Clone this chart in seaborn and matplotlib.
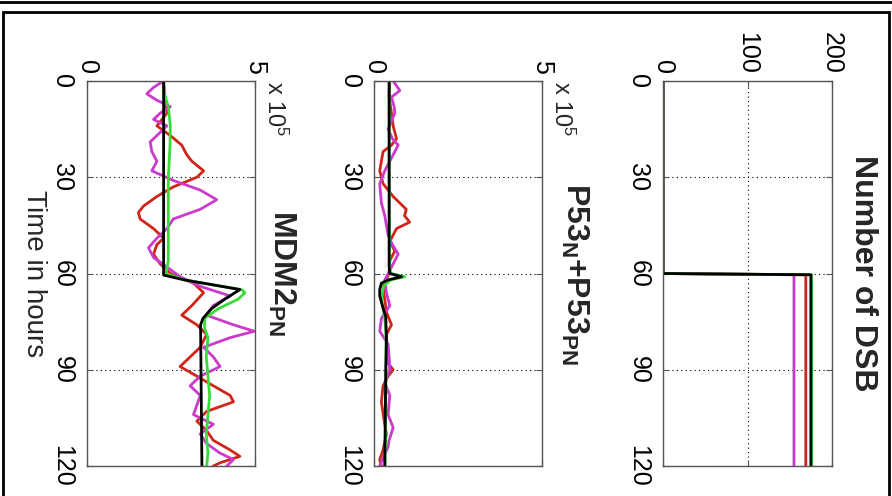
import pandas as pd
import seaborn as sns
import matplotlib.pyplot as plt
from matplotlib.patches import Rectangle
from matplotlib.lines import Line2D

run_order = ['red', 'magenta', 'green', 'black']
run_colors = {'red': '#d0251a', 'magenta': '#cc3acc', 'green': '#3ada3a', 'black': '#000000'}

time_ticks = [0, 30, 60, 90, 120]

# Number of DSB (step at t=60)
dsb_t = [0, 60, 60.4, 120]
dsb_red = [0, 0, 169, 169]
dsb_magenta = [0, 0, 155, 155]
dsb_green = [0, 0, 176, 176]
dsb_black = [0, 0, 175, 175]

# P53_N + P53_PN, in units of 1e5
p53_red_t = [0, 5, 10, 14, 18, 20, 22, 25, 28, 32, 36, 40, 42, 44, 46, 50, 53, 56, 60, 64, 68, 72,
             76, 79, 84, 88, 90, 92, 95, 100, 105, 110, 115, 118, 120]
p53_red = [0.47, 0.45, 0.52, 0.57, 0.67, 0.52, 0.27, 0.22, 0.17, 0.27, 0.57, 0.96, 0.91, 1.06, 0.67,
           0.47, 0.62, 0.47, 0.45, 0.27, 0.32, 0.37, 0.52, 0.37, 0.39, 0.42, 0.57, 0.42, 0.27, 0.22,
           0.29, 0.37, 0.27, 0.17, 0.22]
p53_magenta_t = [0, 3, 5, 8, 10, 13, 15, 18, 20, 24, 28, 32, 38, 42, 48, 51, 54, 58, 62, 66, 70, 74,
                 78, 82, 86, 90, 94, 98, 104, 108, 112, 114, 118, 120]
p53_magenta = [0.57, 0.77, 0.52, 0.6, 0.62, 0.5, 0.42, 0.55, 0.72, 0.52, 0.32, 0.17, 0.22, 0.32, 0.42,
               0.55, 0.72, 0.52, 0.32, 0.37, 0.47, 0.22, 0.17, 0.42, 0.45, 0.47, 0.32, 0.47, 0.42,
               0.57, 0.45, 0.42, 0.25, 0.17]
p53_green_t = [0, 58, 60, 61, 62, 64, 68, 74, 80, 90, 100, 110, 120]
p53_green = [0.45, 0.46, 0.5, 0.92, 0.5, 0.28, 0.22, 0.32, 0.36, 0.36, 0.35, 0.34, 0.33]
p53_black_t = [0, 58, 60, 61, 62, 63, 65, 67, 70, 73.5, 80, 90, 100, 110, 120]
p53_black = [0.45, 0.45, 0.47, 0.82, 0.42, 0.22, 0.17, 0.17, 0.25, 0.35, 0.37, 0.35, 0.34, 0.33, 0.32]

# MDM2_PN, in units of 1e5
mdm2_red_t = [0, 6, 10, 14, 17, 20, 23, 25, 28, 30, 33, 36, 39, 41, 43, 46, 49, 51, 54, 57, 60, 63,
              66, 70, 73, 76, 79, 83, 87, 89, 92, 95, 98, 100, 103, 106, 109, 112, 115, 117, 119, 120]
mdm2_red = [2.28, 2.33, 2.38, 2.08, 2.48, 2.82, 2.97, 3.12, 3.47, 3.27, 2.57, 2.08, 1.68, 1.53, 1.58,
            1.98, 2.28, 2.08, 1.98, 2.18, 2.48, 3.17, 3.47, 3.12, 2.82, 3.27, 3.56, 3.37, 2.97, 2.77,
            3.27, 3.76, 4.26, 4.36, 3.56, 3.27, 3.56, 3.76, 4.26, 4.55, 3.96, 3.76]
mdm2_magenta_t = [0, 2, 4, 6, 8, 10, 12, 14, 16, 19, 22, 25, 28, 31, 34, 37, 40, 43, 46, 49, 52, 55,
                  58, 61, 64, 67, 70, 73, 76, 78, 80, 83, 86, 89, 92, 95, 98, 101, 104, 107, 110,
                  113, 116, 118, 120]
mdm2_magenta = [2.28, 1.98, 1.78, 2.08, 2.48, 2.18, 1.98, 2.38, 2.18, 1.88, 1.93, 2.08, 1.93, 2.57,
                3.37, 3.86, 3.37, 2.57, 2.38, 2.08, 1.83, 1.98, 2.38, 2.77, 3.37, 4.26, 3.76, 3.56,
                4.36, 4.98, 4.26, 3.47, 3.76, 3.96, 3.37, 3.07, 3.37, 3.27, 3.17, 3.76, 3.37, 3.56,
                3.96, 4.36, 4.16]
mdm2_green_t = [0, 4, 8, 14, 20, 30, 40, 50, 56, 60, 62, 65, 66, 68, 71, 74, 77, 80, 86, 92, 98, 104,
                110, 116, 120]
mdm2_green = [2.28, 2.3, 2.42, 2.48, 2.47, 2.42, 2.42, 2.42, 2.42, 2.35, 2.9, 4.6, 4.7, 4.5, 3.9, 3.5,
              3.5, 3.6, 3.55, 3.6, 3.65, 3.6, 3.55, 3.6, 3.56]
mdm2_black_t = [0, 60.5, 62, 65, 68, 71, 74, 76, 120]
mdm2_black = [2.28, 2.28, 2.9, 4.55, 4.1, 3.7, 3.45, 3.38, 3.42]


def long_df(series):
    frames = []
    for run, (t, v) in series.items():
        frames.append(pd.DataFrame({'time': t, 'value': v, 'run': run}))
    return pd.concat(frames, ignore_index=True)


dsb_df = long_df({'red': (dsb_t, dsb_red), 'magenta': (dsb_t, dsb_magenta),
                  'green': (dsb_t, dsb_green), 'black': (dsb_t, dsb_black)})
p53_df = long_df({'red': (p53_red_t, p53_red), 'magenta': (p53_magenta_t, p53_magenta),
                  'green': (p53_green_t, p53_green), 'black': (p53_black_t, p53_black)})
mdm2_df = long_df({'red': (mdm2_red_t, mdm2_red), 'magenta': (mdm2_magenta_t, mdm2_magenta),
                   'green': (mdm2_green_t, mdm2_green), 'black': (mdm2_black_t, mdm2_black)})

sns.set_style('white')
plt.rcParams['font.family'] = ['Liberation Sans', 'DejaVu Sans']
plt.rcParams['mathtext.fontset'] = 'custom'
plt.rcParams['mathtext.rm'] = 'Liberation Sans'
plt.rcParams['mathtext.bf'] = 'Liberation Sans:bold'
plt.rcParams['mathtext.default'] = 'regular'

W, H = 892, 496
fig = plt.figure(figsize=(W / 100, H / 100), dpi=100)


def px_axes(x, y, w, h):
    return fig.add_axes([x / W, 1 - (y + h) / H, w / W, h / H])


def style_panel(ax, xmax, xticks, title, title_x):
    ax.set_xlim(0, xmax)
    ax.set_ylim(120, 0)
    ax.set_xticks(xticks)
    ax.set_yticks(time_ticks)
    ax.set_xlabel('')
    ax.set_ylabel('')
    for s in ax.spines.values():
        s.set_color('#555555')
        s.set_linewidth(1)
    ax.tick_params(axis='both', direction='in', length=4, color='#555555', labelsize=18, labelcolor='black')
    ax.tick_params(axis='x', top=True, labeltop=True, bottom=True, labelbottom=False, labelrotation=-90, pad=5)
    ax.tick_params(axis='y', left=True, right=True, labelrotation=-90, pad=9)
    plt.setp(ax.get_yticklabels(), va='center')
    ax.grid(True, linestyle=(0, (1, 3)), color='black', linewidth=0.8)
    ax.text(title_x, 0.5, title, transform=ax.transAxes, rotation=-90, ha='left', va='center',
            fontsize=23, fontweight='bold')


def draw(ax, df):
    sns.lineplot(data=df, x='value', y='time', hue='run', hue_order=run_order, palette=run_colors,
                 orient='y', sort=False, estimator=None, legend=False, linewidth=2, ax=ax)


ax_dsb = px_axes(663, 81, 169, 385)
draw(ax_dsb, dsb_df)
style_panel(ax_dsb, 200, [0, 100, 200], 'Number of DSB', 1.095)

ax_p53 = px_axes(374, 81, 168, 385)
draw(ax_p53, p53_df)
style_panel(ax_p53, 5, [0, 5], r'$\mathbf{P53_N}$+$\mathbf{P53_{PN}}$', 1.10)
ax_p53.text(1.045, 1.0, r'x 10$^5$', transform=ax_p53.transAxes, rotation=-90, ha='left', va='top', fontsize=17)

ax_mdm2 = px_axes(87, 81, 168, 385)
draw(ax_mdm2, mdm2_df)
style_panel(ax_mdm2, 5, [0, 5], r'$\mathbf{MDM2_{PN}}$', 1.065)
ax_mdm2.text(1.04, 1.0, r'x 10$^5$', transform=ax_mdm2.transAxes, rotation=-90, ha='left', va='top', fontsize=17)
ax_mdm2.set_ylabel('Time in hours', rotation=-90, fontsize=20, ha='center', va='center')
ax_mdm2.yaxis.set_label_coords((34 - 87) / 168, 0.5)

# outer frame of the figure window
fig.add_artist(Rectangle((3 / W, -0.05), 886 / W, 1.05 - 12 / H, transform=fig.transFigure,
                         fill=False, edgecolor='black', linewidth=2))
fig.add_artist(Line2D([0, 1], [1 - 2 / H, 1 - 2 / H], transform=fig.transFigure, color='black', linewidth=2))

fig.savefig('out.png', dpi=100)
